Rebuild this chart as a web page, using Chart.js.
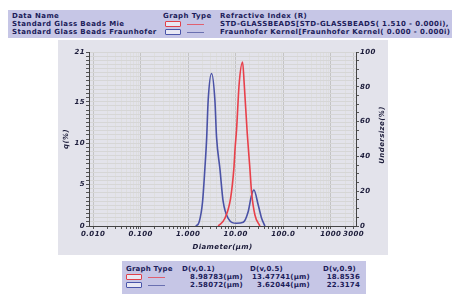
<!DOCTYPE html>
<html>
<head>
<meta charset="utf-8">
<script src="https://cdn.jsdelivr.net/npm/chart.js@4"></script>
<style>
  body { margin: 0; width: 452px; height: 294px; background: #fff; overflow: hidden; position: relative;
         font-family: "DejaVu Sans", sans-serif; font-weight: bold; font-size: 7px; letter-spacing: 0.4px; color: #1c1c5a; }
  .box { position: absolute; background: #c6c6e6; overflow: hidden; }
  .t { position: absolute; white-space: nowrap; line-height: 8px; }
  .r { text-align: right; }
  .ico { position: absolute; width: 14px; height: 4px; border: 1.5px solid; border-radius: 1px; background: #e8e8f4; }
  .ln { position: absolute; width: 17px; height: 0; border-top: 1px solid; }
  #panel { position: absolute; left: 58px; top: 40px; width: 330px; height: 215px; background: #e3e3eb; }
</style>
</head>
<body>
<div class="box" style="left:8px; top:10px; width:444px; height:28px;">
  <span class="t" style="left:4px; top:2px;">Data Name</span>
  <span class="t" style="left:155px; top:2px;">Graph Type</span>
  <span class="t" style="left:212px; top:2px;">Refractive Index (R)</span>
  <span class="t" style="left:4px; top:10px;">Standard Glass Beads Mie</span>
  <span class="t" style="left:4px; top:18px;">Standard Glass Beads Fraunhofer</span>
  <div class="ico" style="left:157px; top:11px; border-color:#e0404a;"></div>
  <div class="ln" style="left:179px; top:14px; border-color:#e06070;"></div>
  <div class="ico" style="left:157px; top:19px; border-color:#4a55aa;"></div>
  <div class="ln" style="left:179px; top:22px; border-color:#6a70b0;"></div>
  <span class="t" style="left:212px; top:10px;">STD-GLASSBEADS[STD-GLASSBEADS( 1.510 -  0.000i),</span>
  <span class="t" style="left:212px; top:18px;">Fraunhofer Kernel[Fraunhofer Kernel( 0.000 -  0.000i)</span>
</div>

<div id="panel"><canvas id="grafico" width="330" height="215"></canvas></div>

<div class="box" style="left:122px; top:261px; width:244px; height:33px; letter-spacing:0.2px;">
  <span class="t" style="left:4px; top:4px;">Graph Type</span>
  <span class="t" style="left:60px; top:4px;">D(v,0.1)</span>
  <span class="t" style="left:128px; top:4px;">D(v,0.5)</span>
  <span class="t" style="left:201px; top:4px;">D(v,0.9)</span>
  <div class="ico" style="left:4px; top:13px; border-color:#e0404a;"></div>
  <div class="ln" style="left:26px; top:16px; border-color:#e06070;"></div>
  <div class="ico" style="left:4px; top:21px; border-color:#4a55aa;"></div>
  <div class="ln" style="left:26px; top:24px; border-color:#6a70b0;"></div>
  <span class="t r" id="m1" style="right:123px; top:12px;"></span>
  <span class="t r" id="m5" style="right:56px; top:12px;"></span>
  <span class="t r" id="m9" style="right:6px; top:12px;"></span>
  <span class="t r" id="f1" style="right:123px; top:20px;"></span>
  <span class="t r" id="f5" style="right:56px; top:20px;"></span>
  <span class="t r" id="f9" style="right:6px; top:20px;"></span>
</div>

<script>
// Datos
const mieDiametro = [4.28, 5.93, 7.81, 9.16, 9.75, 10.4, 11.85, 13.97, 15.1, 17.5, 19.9, 21.6, 25.4, 32.3];
const mieQ = [0, 0.93, 3.34, 6.95, 9.5, 11.5, 17.2, 19.8, 17.2, 11.2, 6.95, 4.06, 1.33, 0];

const fraunDiametro = [1.45, 1.71, 2.01, 2.25, 2.44, 2.64, 3.11, 3.65, 3.96, 4.65, 5.46, 6.95, 10.4, 14.4, 18.3, 21.6, 24.2, 29.8, 35.1, 41.2];
const fraunQ = [0, 0.52, 2.93, 6.95, 10.36, 15.2, 18.4, 15.2, 10.7, 6.95, 2.93, 0.93, 0.33, 0.45, 1.72, 3.73, 4.34, 2.53, 0.93, 0];

const etiquetasX = { 0.01: '0.010', 0.1: '0.100', 1: '1.000', 10: '10.00', 100: '100.0', 1000: '1000', 3000: '3000' };
const etiquetasQ = [0, 5, 10, 15, 21];
const etiquetasUnder = [0, 20, 40, 60, 80, 100];

const mieD = ['8.98783(µm)', '13.47741(µm)', '18.8536'];
const fraunD = ['2.58072(µm)', '3.62044(µm)', '22.3174'];

document.getElementById('m1').textContent = mieD[0];
document.getElementById('m5').textContent = mieD[1];
document.getElementById('m9').textContent = mieD[2];
document.getElementById('f1').textContent = fraunD[0];
document.getElementById('f5').textContent = fraunD[1];
document.getElementById('f9').textContent = fraunD[2];

const fuente = { family: 'DejaVu Sans', size: 7, weight: 'bold', style: 'italic' };
const tinta = '#1c1c3a';

function puntos(xs, ys) {
  return xs.map((x, i) => ({ x: x, y: ys[i] }));
}

// ticks menores del eje logarítmico
const ticksX = [];
for (let e = -2; e <= 3; e++) {
  for (let m = 1; m <= 9; m++) {
    const v = m * Math.pow(10, e);
    if (v <= 3000) ticksX.push(+v.toPrecision(3));
  }
}

function etiquetaX(v) {
  for (const k in etiquetasX) {
    if (Math.abs(Math.log10(v) - Math.log10(+k)) < 1e-6) return etiquetasX[k];
  }
  return '';
}

// titulo del eje derecho, leido de abajo hacia arriba
const tituloDerecho = {
  id: 'tituloDerecho',
  afterDraw(chart) {
    const area = chart.chartArea;
    const c = chart.ctx;
    c.save();
    c.translate(324, (area.top + area.bottom) / 2 - 4);
    c.rotate(-Math.PI / 2);
    c.font = 'italic bold 7px "DejaVu Sans"';
    c.fillStyle = tinta;
    c.textAlign = 'center';
    c.textBaseline = 'middle';
    c.fillText('Undersize(%)', 0, 0);
    c.restore();
  }
};

const ctx = document.getElementById('grafico').getContext('2d');
new Chart(ctx, {
  type: 'line',
  data: {
    datasets: [
      {
        label: 'Standard Glass Beads Mie',
        data: puntos(mieDiametro, mieQ),
        borderColor: '#e8404a',
        borderWidth: 1.6,
        pointRadius: 0,
        cubicInterpolationMode: 'monotone',
        yAxisID: 'y'
      },
      {
        label: 'Standard Glass Beads Fraunhofer',
        data: puntos(fraunDiametro, fraunQ),
        borderColor: '#4a52a6',
        borderWidth: 1.6,
        pointRadius: 0,
        cubicInterpolationMode: 'monotone',
        yAxisID: 'y'
      }
    ]
  },
  options: {
    responsive: false,
    animation: false,
    devicePixelRatio: 1,
    layout: { padding: { top: 12, left: 0, right: 0, bottom: 0 } },
    plugins: { legend: { display: false }, tooltip: { enabled: false } },
    scales: {
      x: {
        type: 'logarithmic',
        min: 0.0082,
        max: 3400,
        afterBuildTicks: s => { s.ticks = ticksX.map(v => ({ value: v })); },
        afterFit: s => { s.height = 29; },
        ticks: { autoSkip: false, maxRotation: 0, color: tinta, font: fuente, padding: 1,
                 callback: v => etiquetaX(v) },
        grid: { color: c => (etiquetaX(c.tick ? c.tick.value : 1) ? '#c4c4c4' : '#dedede'),
                tickLength: 3, tickColor: '#555' },
        border: { color: '#444' },
        title: { display: true, text: 'Diameter(µm)', color: tinta, font: fuente, padding: { top: 0, bottom: 4 } }
      },
      y: {
        position: 'left',
        min: 0,
        max: 21,
        afterBuildTicks: s => {
          const t = [];
          for (let i = 0; i <= 42; i++) t.push({ value: i * 0.5 });
          s.ticks = t;
        },
        afterFit: s => { s.width = 31; },
        ticks: { autoSkip: false, color: tinta, font: fuente, padding: 1,
                 callback: v => (etiquetasQ.includes(v) ? String(v) : '') },
        grid: { color: '#d6d6d6', tickLength: 3, tickColor: '#555' },
        border: { color: '#444' },
        title: { display: true, text: 'q(%)', color: tinta, font: fuente, padding: { top: 4, bottom: 0 } }
      },
      y2: {
        position: 'right',
        min: 0,
        max: 100,
        afterBuildTicks: s => {
          const t = [];
          for (let i = 0; i <= 20; i++) t.push({ value: i * 5 });
          s.ticks = t;
        },
        afterFit: s => { s.width = 32; },
        ticks: { autoSkip: false, color: tinta, font: fuente, padding: 1,
                 callback: v => (etiquetasUnder.includes(v) ? String(v) : '') },
        grid: { drawOnChartArea: false, tickLength: 3, tickColor: '#555' },
        border: { color: '#444' },
        title: { display: false }
      }
    }
  },
  plugins: [tituloDerecho]
});
</script>
</body>
</html>
